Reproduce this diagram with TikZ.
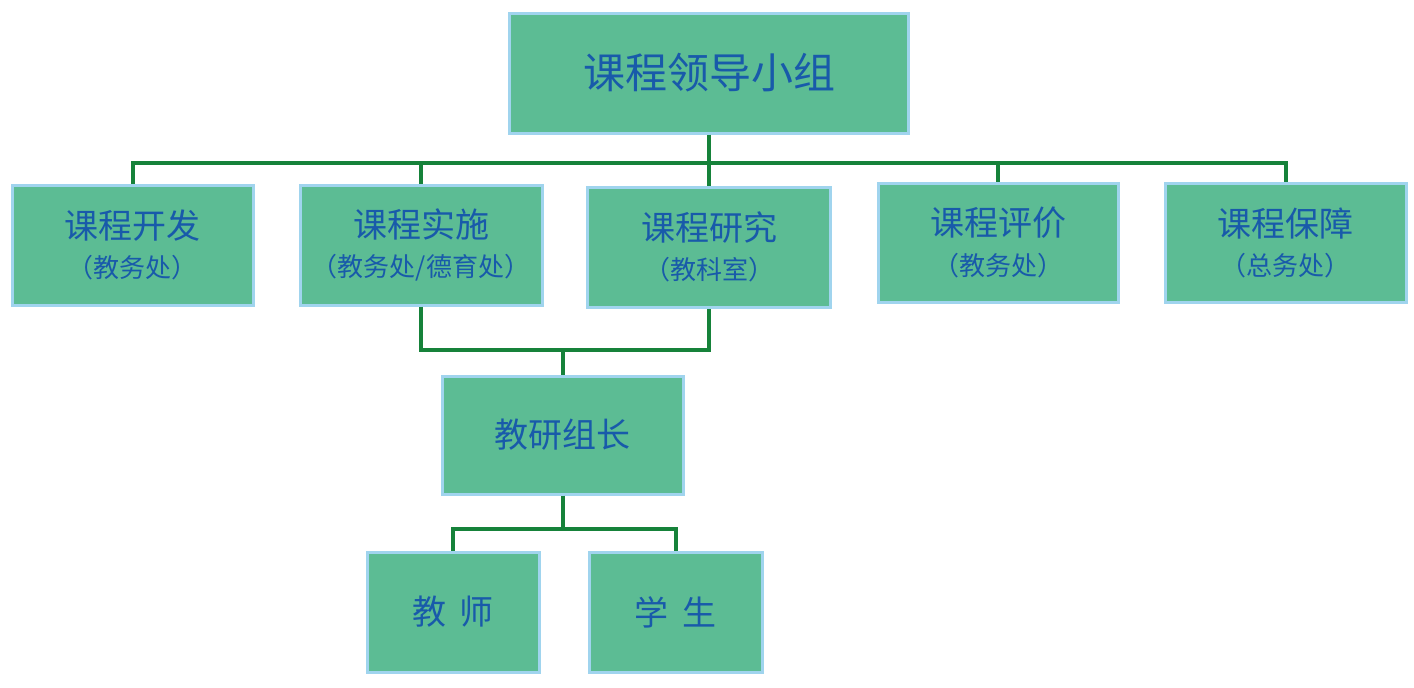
\documentclass[tikz,border=0pt]{standalone}
\usepackage{fontspec}
\usepackage{xcolor}
\usepackage{tikz}
\newfontfamily\cjk{Noto Sans CJK SC}
\definecolor{boxgreen}{RGB}{92,188,148}
\definecolor{boxedge}{RGB}{160,212,238}
\definecolor{linkgreen}{RGB}{22,130,58}
\definecolor{textblue}{RGB}{24,90,170}
\tikzset{
	unit/.style={draw=boxedge,line width=1.5pt,fill=boxgreen,text=textblue,font=\cjk,align=center,inner sep=0pt},
	link/.style={draw=linkgreen,line width=2pt}
}

\begin{document}
\begin{tikzpicture}[x=0.5pt,y=-0.5pt]
					\useasboundingbox (0,0) rectangle (1414,687);
					
					\node[unit,minimum width=199.5pt,minimum height=60pt,font=\cjk\fontsize{21pt}{25pt}\selectfont] (lead) at (709,73) {课程领导小组};
					
					\node[unit,minimum width=120.5pt,minimum height=60pt] (dev) at (132.5,245) {{\fontsize{17pt}{22pt}\selectfont 课程开发}\\[6pt]{\fontsize{13pt}{16pt}\selectfont （教务处）}};
					\node[unit,minimum width=121pt,minimum height=60pt] (impl) at (421,245) {{\fontsize{17pt}{22pt}\selectfont 课程实施}\\[6pt]{\fontsize{13pt}{16pt}\selectfont （教务处/德育处）}};
					\node[unit,minimum width=121.5pt,minimum height=60pt] (res) at (709,247) {{\fontsize{17pt}{22pt}\selectfont 课程研究}\\[6pt]{\fontsize{13pt}{16pt}\selectfont （教科室）}};
					\node[unit,minimum width=120pt,minimum height=59.5pt] (eval) at (998,242.5) {{\fontsize{17pt}{22pt}\selectfont 课程评价}\\[6pt]{\fontsize{13pt}{16pt}\selectfont （教务处）}};
					\node[unit,minimum width=120.5pt,minimum height=59.5pt] (guar) at (1285.5,242.5) {{\fontsize{17pt}{22pt}\selectfont 课程保障}\\[6pt]{\fontsize{13pt}{16pt}\selectfont （总务处）}};
					
					\node[unit,minimum width=120.5pt,minimum height=59pt,font=\cjk\fontsize{17pt}{22pt}\selectfont] (head) at (562.5,435) {教研组长};
					\node[unit,minimum width=86pt,minimum height=60pt,font=\cjk\fontsize{17pt}{22pt}\selectfont] (teach) at (453,612) {教\hspace{0.4em}师};
					\node[unit,minimum width=86.5pt,minimum height=60pt,font=\cjk\fontsize{17pt}{22pt}\selectfont] (stud) at (675.5,612) {学\hspace{0.4em}生};
					
					\coordinate (bus) at (709,163);
					\coordinate (mid) at (562.5,350);
					\coordinate (fork) at (562.5,529);
					
					\draw[link] (lead.south) -- (res.north);
					\draw[link] (dev.north) |- (bus) -| (guar.north);
					\draw[link] (impl.north) -- (impl.north |- bus);
					\draw[link] (eval.north) -- (eval.north |- bus);
					\draw[link] (impl.south) |- (mid) -| (res.south);
					\draw[link] (mid) -- (head.north);
					\draw[link] (head.south) -- (fork);
					\draw[link] (teach.north) |- (fork) -| (stud.north);
				\end{tikzpicture}
\end{document}
